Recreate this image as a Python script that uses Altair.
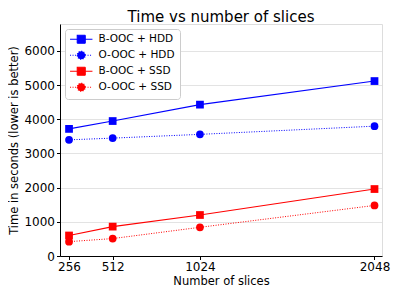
import altair as alt
import pandas as pd

slices = [256, 512, 1024, 2048]
series_names = ["B-OOC + HDD", "O-OOC + HDD", "B-OOC + SSD", "O-OOC + SSD"]
b_hdd = [3720, 3950, 4430, 5120]
o_hdd = [3400, 3450, 3560, 3800]
b_ssd = [600, 860, 1200, 1960]
o_ssd = [420, 510, 840, 1480]
y_ticks = [0, 1000, 2000, 3000, 4000, 5000, 6000]

rows = []
for name, vals in zip(series_names, [b_hdd, o_hdd, b_ssd, o_ssd]):
    for s, v in zip(slices, vals):
        rows.append({"slices": s, "time": v, "series": name})
df = pd.DataFrame(rows)

FONT = "DejaVu Sans"
colors = ["#0000ff", "#0000ff", "#ff0000", "#ff0000"]
dashes = [[1, 0], [1, 1.5], [1, 0], [1, 1.5]]

sq_path = "M-2.8,0H2.8M-1,-1H1V1H-1Z"
ci_path = "M-2.8,0H2.8M-1,0A1,1 0 1,0 1,0A1,1 0 1,0 -1,0Z"
legend_shapes = [sq_path, ci_path, sq_path, ci_path]

x = alt.X("slices:Q", title="Number of slices",
          scale=alt.Scale(domain=[203, 2092], nice=False, zero=False),
          axis=alt.Axis(values=slices, format="d", grid=False, labelFontSize=12, titleFontSize=11.5,
                        tickSize=3.5, labelPadding=2, titlePadding=3,
                        domainColor="black", tickColor="black", labelColor="black",
                        titleColor="black", titleFontWeight="normal", labelFont=FONT, titleFont=FONT))
y = alt.Y("time:Q", title="Time in seconds (lower is better)",
          scale=alt.Scale(domain=[0, 6790], nice=False),
          axis=alt.Axis(values=y_ticks, format="d", grid=True, gridColor="#dcdcdc", gridWidth=0.8,
                        labelFontSize=12, titleFontSize=11.5, tickSize=3.5, labelPadding=2,
                        titlePadding=4, domainColor="black", tickColor="black",
                        labelColor="black", titleColor="black", titleFontWeight="normal",
                        labelFont=FONT, titleFont=FONT))

legend = alt.Legend(
    title=None, orient="top-left", offset=5, labelFontSize=10.5, labelFont=FONT,
    labelColor="black", symbolSize=64, symbolOffset=6, labelOffset=12,
    padding=5, rowPadding=3, strokeColor="#cccccc", fillColor="white",
    cornerRadius=3, symbolOpacity=1, symbolStrokeWidth=1.1,
)

# colour scale for drawn marks (domain order differs so it is not merged with the legend)
col_scale = alt.Scale(domain=series_names[::-1], range=colors[::-1])

base = alt.Chart(df)

lines_solid = base.transform_filter("indexof(datum.series, 'B-') == 0").mark_line(
    strokeWidth=1.1).encode(
    x=x, y=y, color=alt.Color("series:N", scale=col_scale, legend=None))
lines_dotted = base.transform_filter("indexof(datum.series, 'O-') == 0").mark_line(
    strokeWidth=1.0, strokeDash=[1, 1.5]).encode(
    x=x, y=y, color=alt.Color("series:N", scale=col_scale, legend=None))
squares = base.transform_filter("indexof(datum.series, 'B-') == 0").mark_square(
    size=60, opacity=1).encode(
    x=x, y=y, color=alt.Color("series:N", scale=col_scale, legend=None))
circles = base.transform_filter("indexof(datum.series, 'O-') == 0").mark_circle(
    size=60, opacity=1).encode(
    x=x, y=y, color=alt.Color("series:N", scale=col_scale, legend=None))

legend_layer = base.transform_filter("false").mark_point(filled=False, strokeWidth=1.1).encode(
    x=x, y=y,
    fill=alt.Fill("series:N", scale=alt.Scale(domain=series_names, range=colors), legend=legend),
    stroke=alt.Stroke("series:N", scale=alt.Scale(domain=series_names, range=colors), legend=legend),
    shape=alt.Shape("series:N", scale=alt.Scale(domain=series_names, range=legend_shapes), legend=legend),
    strokeDash=alt.StrokeDash("series:N", scale=alt.Scale(domain=series_names, range=dashes), legend=legend),
)

chart = alt.layer(lines_solid, lines_dotted, squares, circles, legend_layer).properties(
    width=322, height=232,
    title=alt.TitleParams("Time vs number of slices", fontSize=15, font=FONT,
                          fontWeight="normal", color="black", offset=-1, anchor="middle"),
    autosize=alt.AutoSizeParams(type="none"),
    padding={"left": 52, "top": 16, "right": 9, "bottom": 35},
).configure_view(stroke="black", strokeWidth=1).configure(background="white")

chart.save("out.html", embed_options={"renderer": "svg", "actions": False})
